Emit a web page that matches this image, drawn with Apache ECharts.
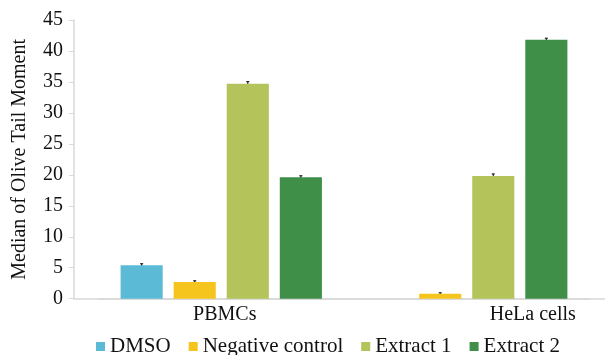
<!DOCTYPE html>
<html>
<head>
<meta charset="utf-8">
<script src="https://cdn.jsdelivr.net/npm/echarts@6/dist/echarts.min.js"></script>
<style>html,body{margin:0;padding:0;background:#fff;}#c{width:605px;height:355px;}</style>
</head>
<body>
<div id="c"></div>
<script>
const categories = ['PBMCs', 'HeLa cells'];
const seriesNames = ['DMSO', 'Negative control', 'Extract 1', 'Extract 2'];
const dmso = [5.4, 0];
const negativeControl = [2.7, 0.8];
const extract1 = [34.7, 19.8];
const extract2 = [19.6, 41.8];
const dmsoErr = [0.25, 0];
const negativeControlErr = [0.2, 0.15];
const extract1Err = [0.35, 0.35];
const extract2Err = [0.25, 0.25];
const yTicks = [0, 5, 10, 15, 20, 25, 30, 35, 40, 45];

const colors = ['#5bbbd6', '#f6c51d', '#b4c45a', '#3f8f48'];
const values = [dmso, negativeControl, extract1, extract2];
const errs = [dmsoErr, negativeControlErr, extract1Err, extract2Err];
const FONT = '"Liberation Serif", "Times New Roman", serif';
const CAT_GAP = 0.18, BAR_GAP = 0.26;

const errData = [];
values.forEach((arr, s) => arr.forEach((v, c) => {
  if (v > 0) errData.push([c, s, v, errs[s][c]]);
}));

const chart = echarts.init(document.getElementById('c'), null, {renderer: 'canvas'});
chart.setOption({
  animation: false,
  color: colors,
  textStyle: {fontFamily: FONT},
  grid: [
    {left: 98.5, right: 15.5, top: 20, bottom: 56.3},
    {left: 74, right: 0, top: 20, bottom: 56.3}
  ],
  legend: {
    data: seriesNames,
    left: 96, top: 336, padding: 0,
    itemWidth: 9, itemHeight: 9, itemGap: 18,
    icon: 'rect',
    textStyle: {fontFamily: FONT, fontSize: 21, color: '#111'}
  },
  xAxis: [
    {
      type: 'category', gridIndex: 0, data: categories,
      axisLine: {show: true, lineStyle: {color: '#d9d9d9', width: 1.5}},
      axisTick: {show: false},
      axisLabel: {
        margin: 6, fontFamily: FONT, fontSize: 20, color: '#111',
        formatter: (v, i) => i === 0 ? '{a|' + v + '}' : '{b|' + v + '}',
        rich: {
          a: {fontFamily: FONT, fontSize: 20, color: '#111', padding: [0, 0, 0, 7]},
          b: {fontFamily: FONT, fontSize: 20, color: '#111', padding: [0, 0, 0, 132]}
        }
      }
    },
    {
      type: 'value', gridIndex: 1, min: 0, max: 1,
      axisLine: {show: true, lineStyle: {color: '#d9d9d9', width: 1.5}},
      axisTick: {show: false}, axisLabel: {show: false}, splitLine: {show: false}
    }
  ],
  yAxis: [
    {
      type: 'value', gridIndex: 0, min: yTicks[0], max: yTicks[yTicks.length - 1],
      interval: yTicks[1] - yTicks[0], offset: 24.5,
      name: 'Median of Olive Tail Moment', nameLocation: 'middle', nameGap: 44,
      nameTextStyle: {fontFamily: FONT, fontSize: 20, color: '#111'},
      axisLine: {show: true, lineStyle: {color: '#d9d9d9', width: 1.5}},
      axisTick: {show: true, length: 5, lineStyle: {color: '#d9d9d9'}},
      axisLabel: {margin: 11, fontFamily: FONT, fontSize: 20, color: '#111'},
      splitLine: {show: false}
    },
    {type: 'value', gridIndex: 1, show: false}
  ],
  series: seriesNames.map((n, s) => ({
    name: n, type: 'bar', xAxisIndex: 0, yAxisIndex: 0,
    data: values[s],
    barCategoryGap: (CAT_GAP * 100) + '%', barGap: (BAR_GAP * 100) + '%',
    itemStyle: {color: colors[s]}
  })).concat([{
    type: 'custom', xAxisIndex: 0, yAxisIndex: 0, silent: true,
    encode: {x: 0, y: 2},
    data: errData,
    renderItem: function (params, api) {
      const c = api.value(0), s = api.value(1), v = api.value(2), e = api.value(3);
      const bw = api.size([1, 0])[0];
      const gw = bw * (1 - CAT_GAP);
      const w = gw / (4 + 3 * BAR_GAP);
      const cx = api.coord([c, v])[0] - gw / 2 + s * w * (1 + BAR_GAP) + w / 2;
      const y1 = api.coord([c, v - e])[1], y2 = api.coord([c, v + e])[1];
      const st = {stroke: '#222', lineWidth: 1.2};
      return {type: 'group', children: [
        {type: 'line', shape: {x1: cx, y1: y1, x2: cx, y2: y2}, style: st},
        {type: 'line', shape: {x1: cx - 1.5, y1: y2, x2: cx + 1.5, y2: y2}, style: st},
        {type: 'line', shape: {x1: cx - 1.5, y1: y1, x2: cx + 1.5, y2: y1}, style: st}
      ]};
    }
  }])
});
</script>
</body>
</html>
